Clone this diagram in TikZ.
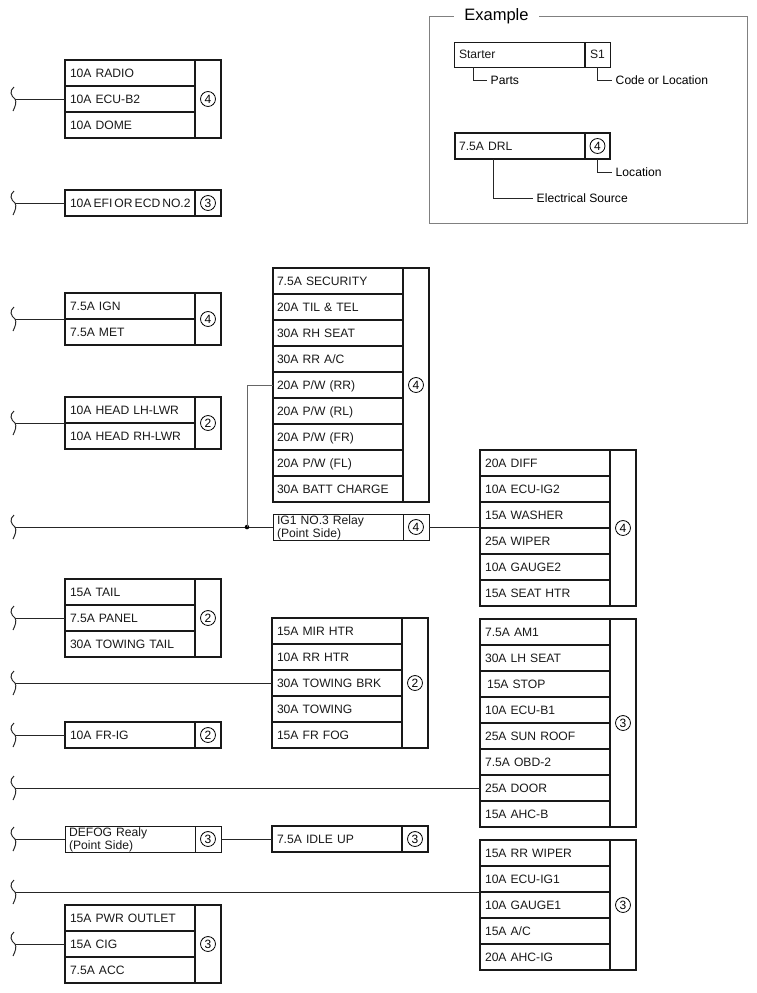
\documentclass[tikz,border=0pt]{standalone}
\usepackage{fontspec}
\setmainfont{Liberation Sans}
\usetikzlibrary{calc}
\tikzset{
  wire/.style={line width=0.75pt,black!85},
  heavy/.style={line width=1.5pt,black!90},
  light/.style={line width=0.75pt,black!90},
  cellbase/.style={draw,rectangle,anchor=north west,inner ysep=0pt,inner xsep=3.75pt,outer sep=0pt,align=left,font=\fontsize{9.1}{9.1}\selectfont},
  oneline/.style={text height=8.2pt,text depth=1.9pt},
  locbox/.style={draw,rectangle,anchor=north west,inner sep=0pt,outer sep=0pt},
  locmark/.style={draw,circle,line width=0.6pt,inner sep=0pt,minimum size=11.2pt,font=\fontsize{9}{9}\selectfont},
  tag/.style={anchor=west,inner ysep=0pt,inner xsep=2.6pt,font=\fontsize{9.1}{9.1}\selectfont,text height=8.2pt,text depth=1.9pt},
  exframe/.style={draw=black!50,line width=0.9pt,rectangle,anchor=north west,inner sep=0pt},
  extitle/.style={fill=white,anchor=west,inner xsep=7.5pt,inner ysep=1pt,font=\fontsize{12.4}{12.4}\selectfont,text height=9.5pt,text depth=2.6pt},
  joint/.style={circle,fill=black,inner sep=0pt,minimum size=3.4pt}
}
\newcommand{\cellshift}{0pt}
% name, x0, xdiv, x1, ytop, n rows, line style, location, rows
\newcommand{\fuseblock}[9]{%
  \pgfmathsetmacro{\mytw}{(#3-#2)*0.75-7.5}%
  \pgfmathsetmacro{\myw}{(#4-#3)*0.75}%
  \pgfmathsetmacro{\myh}{26*#6*0.75}%
  \foreach \t [count=\i] in {#9}{%
    \pgfmathsetmacro{\ytop}{#5+26*(\i-1)}%
    \node[cellbase,oneline,#7,text width=\mytw pt,minimum height=19.5pt] (#1\i) at (#2,\ytop) {\mbox{\hspace{\cellshift}\t}};
  }
  \node[locbox,#7,minimum width=\myw pt,minimum height=\myh pt] (#1L) at (#3,#5) {};
  \node[locmark] (#1M) at (#1L.center) {#8};
}
% two line relay: name, x0, xdiv, x1, ytop, location, text
\newcommand{\relayblock}[7]{%
  \pgfmathsetmacro{\mytw}{(#3-#2)*0.75-6}%
  \pgfmathsetmacro{\myw}{(#4-#3)*0.75}%
  \node[cellbase,light,inner xsep=3pt,text width=\mytw pt,minimum height=19.5pt,font=\fontsize{9.1}{8.2}\selectfont] (#1) at (#2,#5) {\rule{0pt}{8.2pt}#7};
  \node[locbox,light,minimum width=\myw pt,minimum height=19.5pt] (#1L) at (#3,#5) {};
  \node[locmark] (#1M) at (#1L.center) {#6};
}
% squiggle and wire to a target
\newcommand{\feed}[2]{%
  \coordinate (#1) at (15,0 |- #2);
  \draw[wire] ($(#1)+(-1,-12)$) .. controls ($(#1)+(-6,-8)$) and ($(#1)+(-4,-3)$) .. (#1)
     .. controls ($(#1)+(2,3)$) and ($(#1)+(0,8)$) .. ($(#1)+(-2,12)$);
  \draw[wire] (#1) -- (#2);
}
\begin{document}
\begin{tikzpicture}[x=0.75pt,y=-0.75pt]
\useasboundingbox (0,0) rectangle (757,993);

% Example frame
\node[exframe,minimum width=239pt,minimum height=155.25pt] (frame) at (428.5,16) {};
\node[extitle] (extitle) at (454,16) {Example};
\node[cellbase,light,text width=90pt,minimum height=18.75pt,oneline] (starter) at (454,42) {Starter};
\node[cellbase,light,text width=11.25pt,minimum height=18.75pt,oneline,inner xsep=3.75pt] (code) at (585,42) {\mbox{S1}};
\coordinate (pa) at (473,67);
\coordinate (ca) at (597,67);
\node[tag] (parts) at (487,80) {Parts};
\node[tag] (codeloc) at (612,80) {Code or Location};
\draw[wire] (pa) |- (parts.west);
\draw[wire] (ca) |- (codeloc.west);
\renewcommand{\cellshift}{-0.75pt}
\fuseblock{drl}{455}{585}{610}{133}{1}{heavy}{4}{{7.5A DRL}}
\renewcommand{\cellshift}{0pt}
\coordinate (da) at (493,159);
\coordinate (la) at (597,159);
\node[tag] (locn) at (612,172) {Location};
\node[tag] (elec) at (533,198) {Electrical Source};
\draw[wire] (la) |- (locn.west);
\draw[wire] (da) |- (elec.west);

% Left column
\fuseblock{a}{65}{195}{221}{60}{3}{heavy}{4}{{10A RADIO},{10A ECU-B2},{10A DOME}}
\fuseblock{b}{65}{195}{221}{190}{1}{heavy}{3}{{{\spaceskip=1.5pt\relax 10A EFI OR ECD NO.2}}}
\fuseblock{c}{65}{195}{221}{293}{2}{heavy}{4}{{7.5A IGN},{7.5A MET}}
\fuseblock{d}{65}{195}{221}{397}{2}{heavy}{2}{{10A HEAD LH-LWR},{10A HEAD RH-LWR}}
\fuseblock{e}{65}{195}{221}{579}{3}{heavy}{2}{{15A TAIL},{7.5A PANEL},{30A TOWING TAIL}}
\fuseblock{f}{65}{195}{221}{722}{1}{heavy}{2}{{10A FR-IG}}
\fuseblock{g}{65}{195}{221}{905}{3}{heavy}{3}{{15A PWR OUTLET},{15A CIG},{7.5A ACC}}
\relayblock{defog}{65}{195}{221}{826}{3}{DEFOG Realy\\(Point Side)}

% Middle column
\renewcommand{\cellshift}{-0.75pt}
\fuseblock{m}{273}{403}{429}{268}{9}{heavy}{4}{{7.5A SECURITY},{20A TIL \& TEL},{30A RH SEAT},{30A RR A/C},{20A P/W (RR)},{20A P/W (RL)},{20A P/W (FR)},{20A P/W (FL)},{30A BATT CHARGE}}
\renewcommand{\cellshift}{0pt}
\relayblock{ig}{273}{403}{429}{514}{4}{IG1 NO.3 Relay\\(Point Side)}
\fuseblock{n}{272}{402}{428}{618}{5}{heavy}{2}{{15A MIR HTR},{10A RR HTR},{30A TOWING BRK},{30A TOWING},{15A FR FOG}}
\fuseblock{p}{272}{402}{428}{826}{1}{heavy}{3}{{7.5A IDLE UP}}

% Right column
\fuseblock{r}{480}{610}{636}{450}{6}{heavy}{4}{{20A DIFF},{10A ECU-IG2},{15A WASHER},{25A WIPER},{10A GAUGE2},{15A SEAT HTR}}
\fuseblock{s}{480}{610}{636}{619}{8}{heavy}{3}{{7.5A AM1},{30A LH SEAT},{\hspace{1.5pt}15A STOP},{10A ECU-B1},{25A SUN ROOF},{7.5A OBD-2},{25A DOOR},{15A AHC-B}}
\fuseblock{t}{480}{610}{636}{840}{5}{heavy}{3}{{15A RR WIPER},{10A ECU-IG1},{10A GAUGE1},{15A A/C},{20A AHC-IG}}

% Feeds
\feed{wa}{a2.west}
\feed{wb}{b1.west}
\feed{wc}{c1.south west}
\feed{wd}{d1.south west}
\feed{wig}{ig.west}
\feed{we}{e2.west}
\feed{wn}{n3.west}
\feed{wf}{f1.west}
\feed{ws}{s7.west}
\feed{wdf}{defog.west}
\feed{wt}{t2.south west}
\feed{wg}{g2.west}

% Branches
\node[joint] (dot) at (247,0 |- ig.west) {};
\draw[wire,black!60] (dot.center) |- (m5.west);
\draw[wire] (igL.east) -- (igL.east -| r1.west);
\draw[wire] (defogL.east) -- (p1.west);
\end{tikzpicture}
\end{document}
